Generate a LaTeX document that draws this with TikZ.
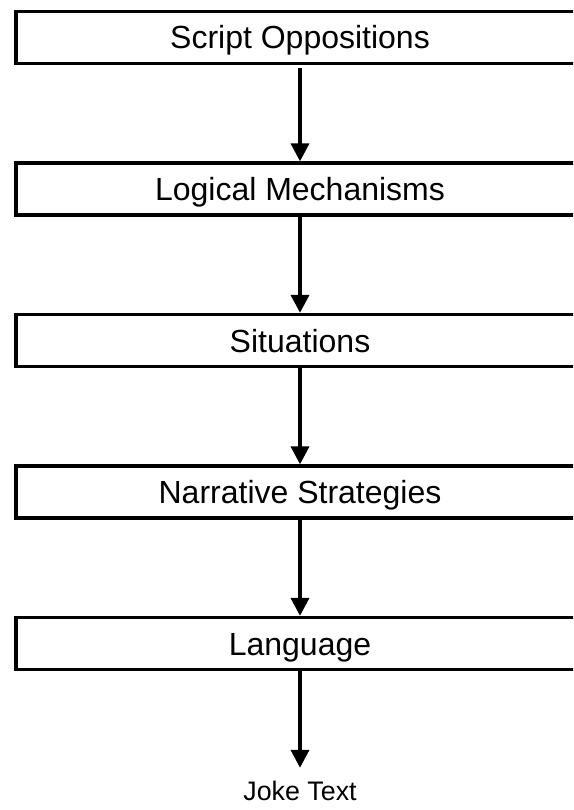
\documentclass[tikz,border=0pt]{standalone}
\usepackage{fontspec}
\setmainfont{Liberation Sans}
\usetikzlibrary{arrows.meta}

\begin{document}
\begin{tikzpicture}[x=1pt,y=-1pt,
  level/.style={draw, line width=3.3pt, rectangle,
    minimum width=568pt, minimum height=52pt, inner sep=0pt,
    text height=23pt, text depth=0pt,
    font=\fontsize{32}{38}\selectfont},
  flow/.style={line width=3.7pt,
    -{Triangle[length=18pt,width=18pt]}},
  result/.style={inner sep=0pt, text height=19pt, text depth=0pt,
    font=\fontsize{26.8}{32}\selectfont}]
  \useasboundingbox (0,0) rectangle (573,810);
  \clip (0,0) rectangle (573,810);

  % the five levels, one below the other
  \node[level] (so) at (300,37.5)  {Script Oppositions};
  \node[level] (lm) at (300,189)   {Logical Mechanisms};
  \node[level] (si) at (300,340.5) {Situations};
  \node[level] (ns) at (300,492)   {Narrative Strategies};
  \node[level] (la) at (300,643.5) {Language};
  \node[result] (jt) at (300,790.5) {Joke Text};

  % connectors between levels
  \draw[flow, shorten <=2.7pt] (so.south) -- (lm.north);
  \draw[flow] (lm.south) -- (si.north);
  \draw[flow] (si.south) -- (ns.north);
  \draw[flow] (ns.south) -- (la.north);
  \draw[flow, shorten >=13pt] (la.south) -- (jt.north);
\end{tikzpicture}
\end{document}
